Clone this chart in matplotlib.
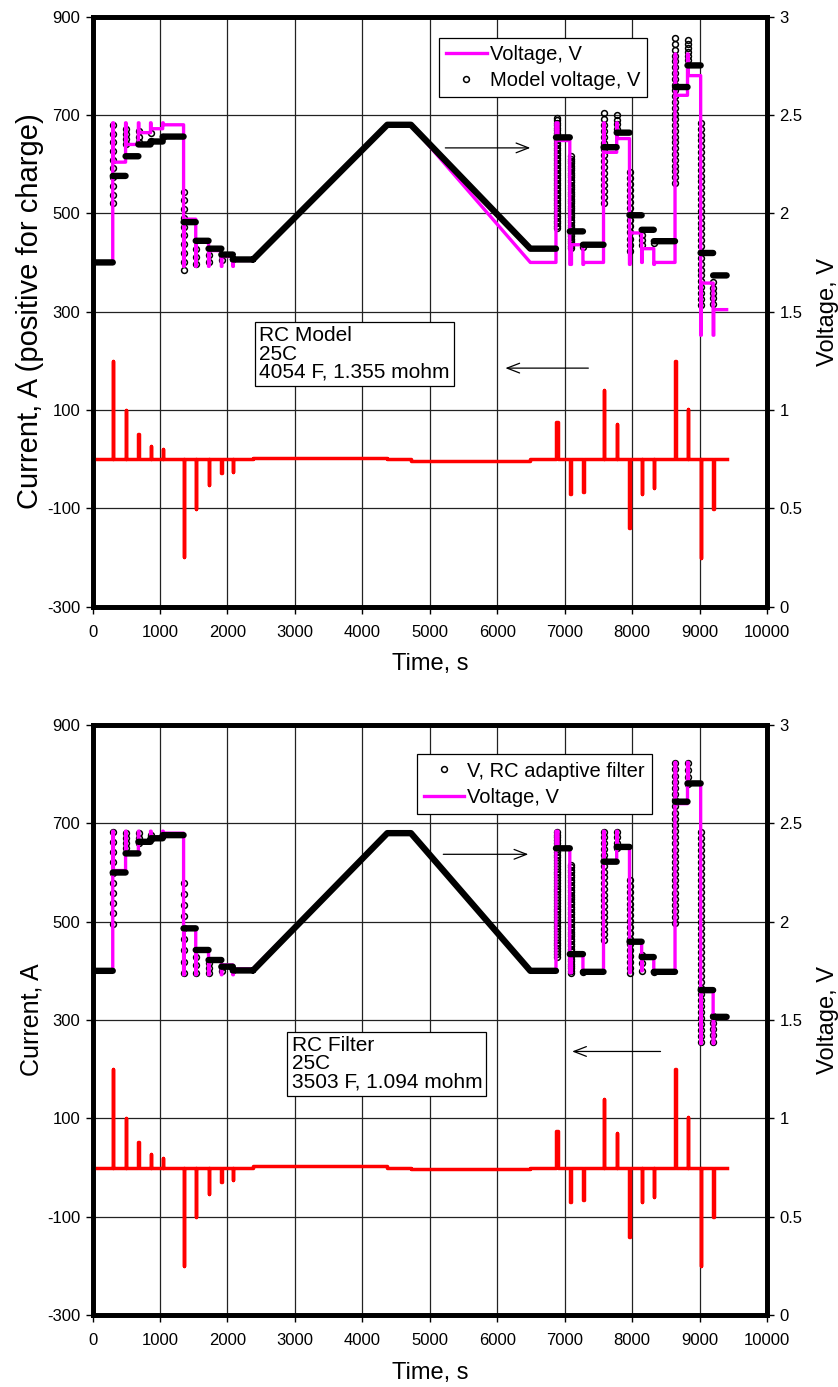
import numpy as np
import matplotlib
matplotlib.use("Agg")
import matplotlib.pyplot as plt
from matplotlib.lines import Line2D

plt.rcParams["font.family"] = ["Liberation Sans", "DejaVu Sans"]
plt.rcParams["axes.unicode_minus"] = False

# ---------------------------------------------------------------- data
# pulse schedule (start time s, duration s, current A)
pulse_t = [300, 490, 680, 860, 1040, 1350, 1530, 1720, 1910, 2080,
           6870, 7075, 7270, 7575, 7770, 7960, 8140, 8320, 8635, 8820, 9015, 9200]
pulse_len = [10, 8, 8, 8, 8, 10, 8, 8, 8, 8,
             30, 25, 10, 10, 10, 10, 10, 10, 10, 10, 10, 10]
pulse_amp = [200, 100, 52, 27, 20, -200, -101, -53, -29, -26,
             75, -71, -67, 140, 71, -141, -71, -59, 200, 102, -201, -101]

# slow constant-current ramp (charge up, hold, discharge down)
ramp_t = [2380, 4370, 4720, 6490]
ramp_current = [3, -3]
t_end = 9400
ramp_after_pulse = 10  # ramp sits between pulse 10 and pulse 11

# measured cell voltage: value during each pulse and rest value after it
v_start = 1.75
v_meas_peak = [2.46, 2.46, 2.46, 2.46, 2.46, 1.73, 1.73, 1.73, 1.73, 1.73,
               2.46, 1.74, 1.74, 2.46, 2.46, 1.74, 1.75, 1.74, 2.81, 2.81, 1.38, 1.38]
v_meas_rest = [2.26, 2.35, 2.41, 2.43, 2.45, 1.97, 1.86, 1.81, 1.78, 1.76,
               2.37, 1.84, 1.75, 2.31, 2.38, 1.90, 1.82, 1.75, 2.60, 2.70, 1.645, 1.51]
v_meas_ramp = [1.76, 2.45, 2.45, 1.75]

# RC model (4054 F, 1.355 mohm): rest levels and transient spread per pulse
rc_rest = [2.19, 2.29, 2.35, 2.365, 2.39, 1.955, 1.86, 1.82, 1.79, 1.765,
           2.386, 1.908, 1.84, 2.336, 2.41, 1.99, 1.916, 1.858, 2.642, 2.752, 1.798, 1.684]
rc_lo = [2.05, 2.35, 2.36, 2.37, 2.39, 1.71, 1.74, 1.75, 1.76, 1.765,
         1.925, 1.823, 1.83, 2.05, 2.43, 1.81, 1.84, 1.85, 2.154, 2.78, 1.535, 1.54]
rc_hi = [2.45, 2.43, 2.42, 2.41, 2.40, 2.11, 1.82, 1.79, 1.79, 1.775,
         2.485, 2.29, 1.85, 2.51, 2.50, 2.21, 1.89, 1.86, 2.89, 2.88, 2.46, 1.65]
rc_count = [10, 4, 3, 2, 1, 10, 3, 2, 2, 1,
            45, 40, 1, 16, 4, 14, 3, 1, 26, 6, 32, 5]
rc_ramp = [1.765, 2.45, 2.45, 1.82]

# RC adaptive filter (3503 F, 1.094 mohm)
af_rest = [2.25, 2.347, 2.406, 2.424, 2.44, 1.966, 1.856, 1.805, 1.771, 1.752,
           2.373, 1.835, 1.745, 2.305, 2.38, 1.898, 1.82, 1.745, 2.61, 2.703, 1.652, 1.516]
af_lo = [1.99, 2.375, 2.40, 2.42, 2.44, 1.74, 1.74, 1.74, 1.75, 1.752,
         1.821, 1.737, 1.745, 1.906, 2.373, 1.737, 1.75, 1.745, 1.991, 2.70, 1.389, 1.389]
af_hi = [2.457, 2.45, 2.45, 2.44, 2.44, 2.198, 1.82, 1.79, 1.77, 1.752,
         2.457, 2.288, 1.745, 2.457, 2.457, 2.21, 1.83, 1.745, 2.805, 2.805, 2.457, 1.52]
af_count = [10, 4, 3, 2, 1, 9, 3, 3, 2, 1,
            45, 45, 1, 20, 4, 17, 3, 1, 27, 4, 36, 5]
af_ramp = [1.752, 2.45, 2.45, 1.75]

x_ticks = list(range(0, 10001, 1000))
i_ticks = list(range(-300, 901, 200))
v_ticks = [0, 0.5, 1, 1.5, 2, 2.5, 3]
v_tick_labels = ["0", "0.5", "1", "1.5", "2", "2.5", "3"]


# ---------------------------------------------------------------- profiles
def current_profile():
    t, a = [0], [0]
    for i, (t0, dur, amp) in enumerate(zip(pulse_t, pulse_len, pulse_amp)):
        if i == ramp_after_pulse:
            t += [ramp_t[0], ramp_t[0], ramp_t[1], ramp_t[1],
                  ramp_t[2], ramp_t[2], ramp_t[3], ramp_t[3]]
            a += [0, ramp_current[0], ramp_current[0], 0,
                  0, ramp_current[1], ramp_current[1], 0]
        t += [t0, t0, t0 + dur, t0 + dur]
        a += [0, amp, amp, 0]
    t.append(t_end)
    a.append(0)
    return t, a


def measured_profile():
    t, v = [0], [v_start]
    cur = v_start
    for i, (t0, dur) in enumerate(zip(pulse_t, pulse_len)):
        if i == ramp_after_pulse:
            t += ramp_t
            v += v_meas_ramp
            cur = v_meas_ramp[-1]
        t += [t0, t0, t0 + dur, t0 + dur]
        v += [cur, v_meas_peak[i], v_meas_peak[i], v_meas_rest[i]]
        cur = v_meas_rest[i]
    t.append(t_end)
    v.append(cur)
    return t, v


def model_plateaus(rest, ramp_v):
    xs, ys = [0, pulse_t[0], np.nan], [v_start, v_start, np.nan]
    for i, t0 in enumerate(pulse_t):
        if i + 1 == ramp_after_pulse:
            t1 = ramp_t[0]
        elif i + 1 < len(pulse_t):
            t1 = pulse_t[i + 1]
        else:
            t1 = t_end
        xs += [t0, t1, np.nan]
        ys += [rest[i], rest[i], np.nan]
    xs += ramp_t + [pulse_t[ramp_after_pulse], np.nan]
    ys += ramp_v + [ramp_v[-1], np.nan]
    return xs, ys


def model_columns(lo, hi, count):
    xs, ys = [], []
    for t0, dur, a, b, n in zip(pulse_t, pulse_len, lo, hi, count):
        vals = np.linspace(a, b, n)
        xs += [t0 + dur / 2] * n
        ys += list(vals)
    return xs, ys


# ---------------------------------------------------------------- drawing
MAGENTA = "#ff00ff"
RED = "#ff0000"

fig = plt.figure(figsize=(8.38, 13.87), dpi=100)


def draw_panel(rect, rest, lo, hi, count, ramp_v, ylabel, ylabel_size,
               legend_order, legend_anchor, box_text, box_xy,
               arrow_right, arrow_left):
    ax = fig.add_axes(rect)
    ax2 = ax.twinx()

    ax.set_xlim(0, 10000)
    ax.set_ylim(-300, 900)
    ax2.set_ylim(0, 3)
    ax.set_xticks(x_ticks)
    ax.set_yticks(i_ticks)
    ax2.set_yticks(v_ticks)
    ax2.set_yticklabels(v_tick_labels)
    ax.grid(True, color="#222222", lw=0.9)
    ax.set_axisbelow(True)

    for a in (ax, ax2):
        for s in a.spines.values():
            s.set_linewidth(3.4)
        a.tick_params(direction="out", length=5, width=1, labelsize=12, pad=4)
    ax.tick_params(axis="x", pad=8)

    ct, ca = current_profile()
    ax.plot(ct, ca, color=RED, lw=2.5, zorder=3)

    cx, cy = model_columns(lo, hi, count)
    ax2.plot(cx, cy, ls="none", marker="o", ms=4.2, mfc="none", mec="black",
             mew=1.1, zorder=2)
    mt, mv = measured_profile()
    ax2.plot(mt, mv, color=MAGENTA, lw=2.4, zorder=3)
    px, py = model_plateaus(rest, ramp_v)
    ax2.plot(px, py, color="black", lw=4.6, solid_capstyle="round",
             solid_joinstyle="round", zorder=4)

    ax.set_xlabel("Time, s", fontsize=17, labelpad=10)
    ax.set_ylabel(ylabel, fontsize=ylabel_size, labelpad=2)
    ax2.set_ylabel("Voltage, V", fontsize=17, labelpad=10)

    h_line = Line2D([], [], color=MAGENTA, lw=2.4)
    h_mark = Line2D([], [], ls="none", marker="o", ms=4.2, mfc="none",
                    mec="black", mew=1.1)
    handles = {"line": h_line, "mark": h_mark}
    leg = ax2.legend([handles[k] for k, _ in legend_order],
                     [lab for _, lab in legend_order],
                     loc="upper left", bbox_to_anchor=legend_anchor,
                     frameon=True, fancybox=False, framealpha=1,
                     edgecolor="black", fontsize=14.5, handlelength=2.0,
                     handletextpad=0.15, borderpad=0.35, labelspacing=0.35,
                     borderaxespad=0)
    leg.get_frame().set_linewidth(0.9)
    leg.set_zorder(10)

    ax.text(box_xy[0], box_xy[1], box_text, fontsize=15, va="top", ha="left",
            linespacing=0.95, zorder=10,
            bbox=dict(boxstyle="square,pad=0.2", fc="white", ec="black", lw=0.9))

    arrow = dict(arrowstyle="->,head_length=0.9,head_width=0.35", lw=0.9,
                 color="black", shrinkA=0, shrinkB=0)
    ax.annotate("", xy=arrow_right[1], xytext=arrow_right[0],
                arrowprops=arrow, zorder=10)
    ax.annotate("", xy=arrow_left[1], xytext=arrow_left[0],
                arrowprops=arrow, zorder=10)
    return ax, ax2


draw_panel([0.1104, 0.5627, 0.805, 0.4253], rc_rest, rc_lo, rc_hi, rc_count,
           rc_ramp, "Current, A (positive for charge)", 21,
           [("line", "Voltage, V"), ("mark", "Model voltage, V")],
           (0.514, 0.964), "RC Model\n25C\n4054 F, 1.355 mohm",
           (2470, 270), ((5230, 633), (6490, 633)), ((7350, 185), (6120, 185)))

draw_panel([0.1104, 0.0519, 0.805, 0.4254], af_rest, af_lo, af_hi, af_count,
           af_ramp, "Current, A", 18,
           [("mark", "V, RC adaptive filter"), ("line", "Voltage, V")],
           (0.481, 0.950), "RC Filter\n25C\n3503 F, 1.094 mohm",
           (2950, 267), ((5200, 637), (6460, 637)), ((8420, 236), (7110, 236)))

fig.savefig("out.png", dpi=100)
